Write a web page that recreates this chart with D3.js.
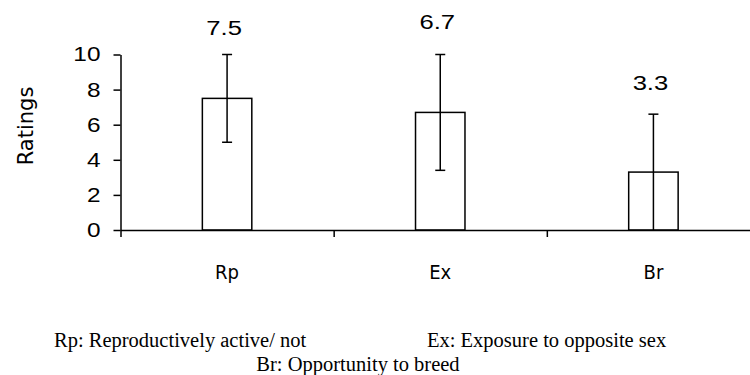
<!DOCTYPE html>
<html><head><meta charset="utf-8">
<script src="https://cdn.jsdelivr.net/npm/d3@7"></script>
<style>body{margin:0;background:#fff}</style>
</head><body><svg id="chart" width="750" height="375"></svg>
<script>
// Mean ratings per factor with their error ranges
const categories = ["Rp", "Ex", "Br"];
const ratings = [7.5, 6.7, 3.3];
const errors = [2.5, 3.3, 3.3];
const yTicks = [0, 2, 4, 6, 8, 10];
const yTitle = "Ratings";
const notes = ["Rp: Reproductively active/ not", "Ex: Exposure to opposite sex", "Br: Opportunity to breed"];

// label gap above each error bar (px)
const labelGap = [20, 26, 24];
// digits are drawn slightly wide
const digitStretch = 1.22;

const svg = d3.select("#chart");
const plotLeft = 120.5, plotRight = 760, plotBase = 230, plotTop = 54.5;

const y = d3.scaleLinear().domain([0, 10]).range([plotBase, plotTop]);
const x = d3.scaleBand().domain(categories).range([plotLeft, plotRight]);
const edges = d3.scaleLinear().domain([0, categories.length]).range([plotLeft, plotRight]);
const barW = x.bandwidth() * 0.232;

const data = categories.map((c, i) => ({c, v: ratings[i], e: errors[i], gap: labelGap[i]}));

// bars
svg.append("g").selectAll("rect").data(data).join("rect")
  .attr("x", d => x(d.c) + (x.bandwidth() - barW) / 2)
  .attr("y", d => y(d.v))
  .attr("width", barW)
  .attr("height", d => y(0) - y(d.v))
  .attr("fill", "#fff").attr("stroke", "#000").attr("stroke-width", 1.5);

// error bars
const eb = svg.append("g").attr("stroke", "#000").attr("stroke-width", 1.5);
data.forEach(d => {
  const cx = x(d.c) + x.bandwidth() / 2;
  const lo = Math.max(0, d.v - d.e), hi = d.v + d.e;
  eb.append("line").attr("x1", cx).attr("x2", cx).attr("y1", y(lo)).attr("y2", y(hi));
  eb.append("line").attr("x1", cx - 5).attr("x2", cx + 5).attr("y1", y(hi)).attr("y2", y(hi));
  if (lo > 0) eb.append("line").attr("x1", cx - 5).attr("x2", cx + 5).attr("y1", y(lo)).attr("y2", y(lo));
});

// value labels
svg.append("g").selectAll("text").data(data).join("text")
  .attr("transform", d => `translate(${x(d.c) + x.bandwidth() / 2 - 3},${y(d.v + d.e) - d.gap}) scale(${digitStretch},1)`)
  .attr("text-anchor", "middle")
  .attr("font-family", "'Liberation Sans', Arial, sans-serif")
  .attr("font-size", 21)
  .text(d => d.v.toFixed(1));

// x axis: ticks at category boundaries
const xAxis = svg.append("g").attr("transform", `translate(0,${plotBase})`)
  .call(d3.axisBottom(edges).tickValues(d3.range(categories.length)).tickSize(7).tickSizeOuter(0).tickFormat(""));
xAxis.selectAll("path,line").attr("stroke", "#000").attr("stroke-width", 1.5);

// y axis
const yAxis = svg.append("g").attr("transform", `translate(${plotLeft},0)`)
  .call(d3.axisLeft(y).tickValues(yTicks).tickSize(7).tickSizeOuter(0).tickPadding(13));
yAxis.selectAll("path,line").attr("stroke", "#000").attr("stroke-width", 1.5);
yAxis.selectAll("text")
  .attr("x", -20 / digitStretch)
  .attr("transform", `scale(${digitStretch},1)`)
  .attr("font-family", "'Liberation Sans', Arial, sans-serif")
  .attr("font-size", 20).attr("fill", "#000");

// category labels
svg.append("g").selectAll("text").data(categories).join("text")
  .attr("x", d => x(d) + x.bandwidth() / 2)
  .attr("y", 279)
  .attr("text-anchor", "middle")
  .attr("font-family", "'DejaVu Sans Condensed', 'DejaVu Sans', sans-serif")
  .style("font-stretch", "condensed")
  .attr("font-size", 20)
  .text(d => d);

// y title
svg.append("text")
  .attr("transform", "translate(33,126) rotate(-90)")
  .attr("text-anchor", "middle")
  .attr("font-family", "'DejaVu Sans', sans-serif")
  .attr("font-size", 21)
  .text(yTitle);

// key to abbreviations
const noteFont = "'Liberation Serif', 'Times New Roman', serif";
svg.append("text").attr("x", 54).attr("y", 347).attr("font-family", noteFont).attr("font-size", 20.5).text(notes[0]);
svg.append("text").attr("x", 427).attr("y", 347).attr("font-family", noteFont).attr("font-size", 20.5).text(notes[1]);
svg.append("text").attr("x", 358).attr("y", 371).attr("text-anchor", "middle").attr("font-family", noteFont).attr("font-size", 20.5).text(notes[2]);
</script></body></html>
